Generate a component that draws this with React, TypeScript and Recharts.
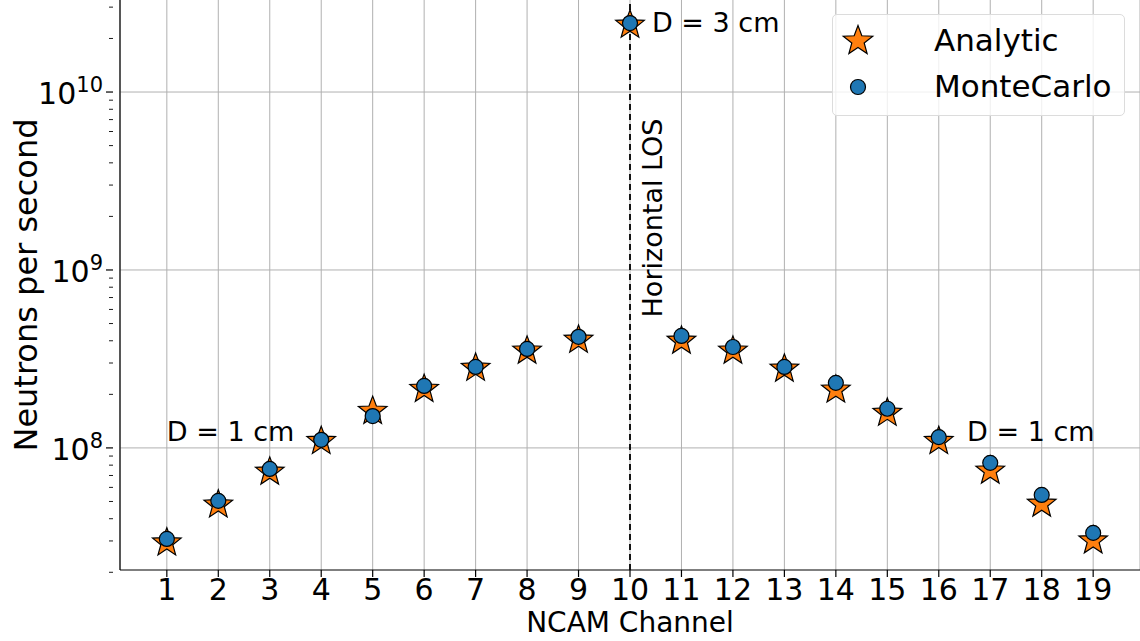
import {
  ComposedChart,
  Scatter,
  XAxis,
  YAxis,
  CartesianGrid,
  ReferenceLine,
  ReferenceDot,
} from "recharts";

const channels = [1, 2, 3, 4, 5, 6, 7, 8, 9, 10, 11, 12, 13, 14, 15, 16, 17, 18, 19];

const analytic = [
  2.93e7, 4.79e7, 7.33e7, 1.09e8, 1.61e8, 2.14e8, 2.81e8, 3.51e8, 4.04e8, 2.38e10,
  3.99e8, 3.51e8, 2.78e8, 2.12e8, 1.57e8, 1.09e8, 7.43e7, 4.84e7, 3.01e7,
];

const monteCarlo = [
  3.08e7, 5.04e7, 7.62e7, 1.11e8, 1.51e8, 2.23e8, 2.85e8, 3.6e8, 4.21e8, 2.44e10,
  4.26e8, 3.69e8, 2.85e8, 2.32e8, 1.66e8, 1.15e8, 8.24e7, 5.44e7, 3.33e7,
];

const majorTicks = [1e8, 1e9, 1e10];
const minorTicks = [
  2e7, 3e7, 4e7, 5e7, 6e7, 7e7, 8e7, 9e7,
  2e8, 3e8, 4e8, 5e8, 6e8, 7e8, 8e8, 9e8,
  2e9, 3e9, 4e9, 5e9, 6e9, 7e9, 8e9, 9e9,
  2e10, 3e10,
];

const analyticData = channels.map((c, i) => ({ x: c, y: analytic[i] }));
const mcData = channels.map((c, i) => ({ x: c, y: monteCarlo[i] }));

const FONT = "'DejaVu Sans', sans-serif";
const ORANGE = "#ff7f0e";
const BLUE = "#1f77b4";

function starPoints(cx: number, cy: number, R: number, r: number) {
  const pts: string[] = [];
  for (let k = 0; k < 10; k++) {
    const rad = k % 2 === 0 ? R : r;
    const a = -Math.PI / 2 + (k * Math.PI) / 5;
    pts.push(`${cx + rad * Math.cos(a)},${cy + rad * Math.sin(a)}`);
  }
  return pts.join(" ");
}

const Star = (props: any) => {
  const { cx, cy } = props;
  if (cx == null || cy == null) return null;
  return (
    <polygon points={starPoints(cx, cy, 15, 6.3)} fill={ORANGE} stroke="#000" strokeWidth={1.2} />
  );
};

const Dot = (props: any) => {
  const { cx, cy } = props;
  if (cx == null || cy == null) return null;
  return <circle cx={cx} cy={cy} r={7.5} fill={BLUE} stroke="#000" strokeWidth={1.2} />;
};

const YTick = (props: any) => {
  const { x, y, payload } = props;
  const v = payload.value;
  const major = majorTicks.includes(v);
  const exp = Math.round(Math.log10(v));
  return (
    <g>
      <line x1={x + 1} x2={x + 1 - (major ? 7 : 4)} y1={y} y2={y} stroke="#000" strokeWidth={major ? 1.2 : 0.9} />
      {major && (
        <text x={x - 9} y={y + 12} textAnchor="end" fontFamily={FONT} fill="#000">
          <tspan fontSize={30}>10</tspan>
          <tspan fontSize={21} dy={-12}>{exp}</tspan>
        </text>
      )}
    </g>
  );
};

const LegendBox = () => (
  <div
    style={{
      position: "absolute",
      left: 832,
      top: 14,
      width: 291,
      height: 100,
      border: "1px solid #dcdcdc",
      borderRadius: 5,
      background: "rgba(255,255,255,0.8)",
      fontFamily: FONT,
      fontSize: 31,
      color: "#000",
    }}
  >
    <svg width={50} height={100} style={{ position: "absolute", left: 0, top: 0 }}>
      <polygon points={starPoints(25, 26, 15.5, 6.5)} fill={ORANGE} stroke="#000" strokeWidth={1.2} />
      <circle cx={25} cy={72} r={7.5} fill={BLUE} stroke="#000" strokeWidth={1.2} />
    </svg>
    <div style={{ position: "absolute", left: 101, top: 8, lineHeight: "34px" }}>Analytic</div>
    <div style={{ position: "absolute", left: 101, top: 54, lineHeight: "34px" }}>MonteCarlo</div>
  </div>
);

const TextLabel = (text: string, dx: number, dy: number, size: number, rotate = false) => (p: any) => {
  const { viewBox } = p;
  const x = viewBox.x + viewBox.width / 2 + dx;
  const y = viewBox.y + viewBox.height / 2 + dy;
  return (
    <text
      x={x}
      y={y}
      fontFamily={FONT}
      fontSize={size}
      fill="#000"
      textAnchor={rotate ? "middle" : "start"}
      dominantBaseline="central"
      transform={rotate ? `rotate(-90 ${x} ${y})` : undefined}
    >
      {text}
    </text>
  );
};

const YLabel = (p: any) => {
  const { viewBox } = p;
  const x = 26;
  const y = viewBox.y + viewBox.height / 2;
  return (
    <text
      x={x}
      y={y}
      fontFamily={FONT}
      fontSize={32}
      fill="#000"
      textAnchor="middle"
      dominantBaseline="central"
      transform={`rotate(-90 ${x} ${y})`}
    >
      Neutrons per second
    </text>
  );
};

const XLabel = (p: any) => {
  const { viewBox } = p;
  return (
    <text
      x={viewBox.x + viewBox.width / 2}
      y={632}
      fontFamily={FONT}
      fontSize={28}
      fill="#000"
      textAnchor="middle"
    >
      NCAM Channel
    </text>
  );
};

export default function App() {
  return (
    <div style={{ position: "absolute", left: 0, top: 0, width: 1140, height: 641, background: "#fff" }}>
      <ComposedChart width={1140} height={641} margin={{ top: 0, right: 0, bottom: 0, left: 0 }}>
        <CartesianGrid horizontal={false} stroke="#b0b0b0" strokeWidth={1} />
        <XAxis
          type="number"
          dataKey="x"
          domain={[0.09, 19.91]}
          ticks={channels}
          interval={0}
          allowDataOverflow
          height={71}
          tick={{ fontSize: 30, fontFamily: FONT, fill: "#000" }}
          tickSize={7}
          tickMargin={2}
          axisLine={{ stroke: "#000", strokeWidth: 1.2 }}
          tickLine={{ stroke: "#000", strokeWidth: 1.2 }}
          label={<XLabel />}
        />
        <YAxis
          type="number"
          dataKey="y"
          scale="log"
          domain={[2.06e7, 3.29e10]}
          allowDataOverflow
          ticks={[...majorTicks, ...minorTicks]}
          interval={0}
          width={120}
          tickLine={false}
          tick={<YTick />}
          axisLine={{ stroke: "#000", strokeWidth: 1.2 }}
          label={<YLabel />}
        />
        {majorTicks.map((v) => (
          <ReferenceLine key={v} y={v} stroke="#b0b0b0" strokeWidth={1} />
        ))}
        <ReferenceLine x={10} stroke="#000" strokeWidth={1.8} strokeDasharray="6 4" />
        <Scatter name="Analytic" data={analyticData} shape={<Star />} isAnimationActive={false} />
        <Scatter name="MonteCarlo" data={mcData} shape={<Dot />} isAnimationActive={false} />
        <ReferenceDot x={1} y={1.23e8} r={0} fill="none" stroke="none" label={TextLabel("D = 1 cm", 0, 0, 27)} />
        <ReferenceDot x={16.55} y={1.23e8} r={0} fill="none" stroke="none" label={TextLabel("D = 1 cm", 0, 0, 27)} />
        <ReferenceDot x={10} y={2.47e10} r={0} fill="none" stroke="none" label={TextLabel("D = 3 cm", 22, 0, 27)} />
        <ReferenceDot x={10.44} y={1.96e9} r={0} fill="none" stroke="none" label={TextLabel("Horizontal LOS", 0, 0, 27, true)} />
      </ComposedChart>
      <LegendBox />
    </div>
  );
}
